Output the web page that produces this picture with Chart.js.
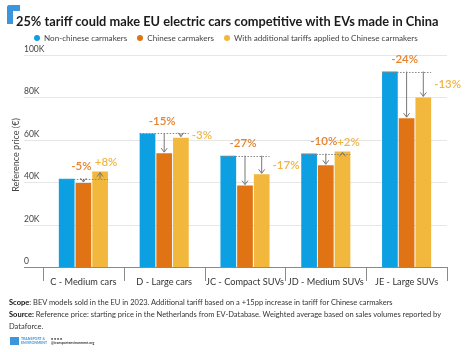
<!DOCTYPE html>
<html>
<head>
<meta charset="utf-8">
<script src="https://cdn.jsdelivr.net/npm/chart.js@4.4.1/dist/chart.umd.min.js"></script>
<style>
  html, body { margin: 0; padding: 0; background: #fff; }
  body { width: 465px; height: 352px; position: relative; overflow: hidden; font-family: Lato, "Noto Sans", sans-serif; color: #333; }
  #wrap { position: absolute; left: 0; top: 0; width: 465px; height: 352px; }
  .logo { position: absolute; left: 7px; top: 5px; width: 13px; height: 19px; }
  .logo .h { position: absolute; left: 0; top: 0; width: 13px; height: 6px; background: #3d95dc; border-top-left-radius: 3px; }
  .logo .v { position: absolute; left: 0; top: 0; width: 6px; height: 19px; background: #3d95dc; border-top-left-radius: 3px; }
  h1 { position: absolute; left: 16px; top: 13px; margin: 0; font-size: 12.8px; font-weight: 700; color: #1b1b1b; white-space: nowrap; }
  .legend { position: absolute; left: 34px; top: 33px; font-size: 8.1px; line-height: 10px; color: #444; white-space: nowrap; }
  .legend span { margin-right: 8px; }
  .legend i { display: inline-block; width: 6px; height: 6px; border-radius: 50%; margin-right: 4px; vertical-align: 0px; }
  .notes { position: absolute; left: 9px; top: 297px; font-size: 7.5px; line-height: 12px; color: #333; width: 432px; }
  .notes b { color: #111; }
  .te { position: absolute; left: 10px; top: 337px; font-size: 3.5px; line-height: 4px; color: #3d95dc; font-weight: 700; white-space: nowrap; }
  .te .mk { display: inline-block; width: 9px; height: 8px; background: #3d95dc; vertical-align: top; margin-right: 2px; }
  .te .so { color: #333; margin-left: 4px; display: inline-block; }
</style>
</head>
<body>
<div id="wrap"><canvas id="chart"></canvas></div>
<div class="logo"><div class="h"></div><div class="v"></div></div>
<h1>25% tariff could make EU electric cars competitive with EVs made in China</h1>
<div class="legend">
  <span><i style="background:#0ca0e2"></i>Non-chinese carmakers</span>
  <span><i style="background:#e07415"></i>Chinese carmakers</span>
  <span><i style="background:#f2b83d"></i>With additional tariffs applied to Chinese carmakers</span>
</div>
<div class="notes">
  <div><b>Scope</b>: BEV models sold in the EU in 2023. Additional tariff based on a +15pp increase in tariff for Chinese carmakers</div>
  <div><b>Source:</b> Reference price: starting price in the Netherlands from EV-Database. Weighted average based on sales volumes reported by Dataforce.</div>
</div>
<div class="te"><span class="mk"></span><span style="display:inline-block">TRANSPORT &amp;<br>ENVIRONMENT</span><span class="so">● ● ● ●<br>@transportenvironment.org</span></div>
<script>
// data
const categories = ['C - Medium cars', 'D - Large cars', 'JC - Compact SUVs', 'JD - Medium SUVs', 'JE - Large SUVs'];
const nonChinese = [41600, 63000, 52500, 53500, 92200];
const chinese = [39600, 53700, 38400, 48000, 70200];
const withTariff = [45000, 61000, 43700, 54500, 80000];
const chinesePct = ['-5%', '-15%', '-27%', '-10%', '-24%'];
const tariffPct = ['+8%', '-3%', '-17%', '+2%', '-13%'];
const yTicks = [0, 20000, 40000, 60000, 80000, 100000];
const yTickLabels = ['0', '20K', '40K', '60K', '80K', '100K'];

const BLUE = '#0ca0e2', ORANGE = '#e07415', YELLOW = '#f2b83d';
const FONT = 'Lato, "Noto Sans", sans-serif';

function arrow(ctx, x, y0, y1) {
  ctx.save();
  ctx.strokeStyle = '#777';
  ctx.lineWidth = 1;
  ctx.beginPath();
  ctx.moveTo(x, y0);
  ctx.lineTo(x, y1);
  ctx.stroke();
  const d = y1 > y0 ? 1 : -1;
  ctx.beginPath();
  ctx.moveTo(x - 3, y1 - d * 4);
  ctx.lineTo(x, y1);
  ctx.lineTo(x + 3, y1 - d * 4);
  ctx.stroke();
  ctx.restore();
}

const decor = {
  id: 'decor',
  beforeDatasetsDraw(chart) {
    const ctx = chart.ctx, y = chart.scales.y, x = chart.scales.x, a = chart.chartArea;
    ctx.save();
    // gridlines with their labels sitting above, left aligned
    yTicks.forEach((v, i) => {
      const py = Math.round(y.getPixelForValue(v)) + 0.5;
      ctx.strokeStyle = v === 0 ? '#8a8a8a' : '#e6e6e6';
      ctx.lineWidth = 1;
      ctx.beginPath();
      ctx.moveTo(24, py);
      ctx.lineTo(a.right, py);
      ctx.stroke();
      ctx.fillStyle = '#444';
      ctx.font = '8.5px ' + FONT;
      ctx.textAlign = 'left';
      ctx.textBaseline = 'bottom';
      ctx.fillText(yTickLabels[i], 24, py - 2);
    });
    // category separators under the axis
    const step = x.getPixelForValue(1) - x.getPixelForValue(0);
    const y0 = Math.round(y.getPixelForValue(0));
    ctx.strokeStyle = '#8a8a8a';
    for (let i = 0; i <= categories.length; i++) {
      const px = Math.round(x.getPixelForValue(0) - step / 2 + i * step) + 0.5;
      ctx.beginPath();
      ctx.moveTo(px, y0);
      ctx.lineTo(px, y0 + 14);
      ctx.stroke();
    }
    // y axis title
    ctx.translate(16, 155);
    ctx.rotate(-Math.PI / 2);
    ctx.fillStyle = '#444';
    ctx.font = '9px ' + FONT;
    ctx.textAlign = 'center';
    ctx.textBaseline = 'middle';
    ctx.fillText('Reference price (€)', 0, 0);
    ctx.restore();
  },
  afterDatasetsDraw(chart) {
    const ctx = chart.ctx;
    const m0 = chart.getDatasetMeta(0).data, m1 = chart.getDatasetMeta(1).data, m2 = chart.getDatasetMeta(2).data;
    categories.forEach((c, i) => {
      const b = m0[i], o = m1[i], t = m2[i];
      const top = b.y;
      ctx.save();
      ctx.strokeStyle = '#888';
      ctx.setLineDash([1.5, 1.5]);
      ctx.beginPath();
      ctx.moveTo(b.x - b.width / 2, Math.round(top) + 0.5);
      ctx.lineTo(t.x + t.width / 2, Math.round(top) + 0.5);
      ctx.stroke();
      ctx.restore();
      arrow(ctx, o.x, top, o.y - 1);
      arrow(ctx, t.x, top, t.y + (t.y > top ? -1 : 1));
      ctx.save();
      ctx.font = '600 11.5px ' + FONT;
      ctx.textBaseline = 'middle';
      ctx.fillStyle = '#e6822e';
      ctx.textAlign = 'center';
      ctx.fillText(chinesePct[i], o.x - 2, top - 12);
      ctx.fillStyle = '#f0b545';
      if (t.y < top) {
        ctx.fillText(tariffPct[i], t.x + 6, t.y - 9);
      } else {
        ctx.textAlign = 'left';
        ctx.fillText(tariffPct[i], t.x + t.width / 2 + 3, (top + t.y) / 2);
      }
      ctx.restore();
    });
  }
};

new Chart(document.getElementById('chart'), {
  type: 'bar',
  data: {
    labels: categories,
    datasets: [
      { label: 'Non-chinese carmakers', data: nonChinese, backgroundColor: BLUE },
      { label: 'Chinese carmakers', data: chinese, backgroundColor: ORANGE },
      { label: 'With additional tariffs applied to Chinese carmakers', data: withTariff, backgroundColor: YELLOW }
    ]
  },
  options: {
    responsive: true,
    maintainAspectRatio: false,
    animation: false,
    layout: { padding: { left: 43, right: 18, top: 55, bottom: 62 } },
    datasets: { bar: { categoryPercentage: 0.62, barPercentage: 0.94 } },
    plugins: { legend: { display: false }, tooltip: { enabled: false } },
    scales: {
      y: { display: false, min: 0, max: 100000 },
      x: {
        grid: { display: false },
        border: { display: false },
        ticks: { padding: 2, maxRotation: 0, autoSkip: false, color: '#333', font: { size: 9.2, family: FONT } }
      }
    }
  },
  plugins: [decor]
});
</script>
</body>
</html>
